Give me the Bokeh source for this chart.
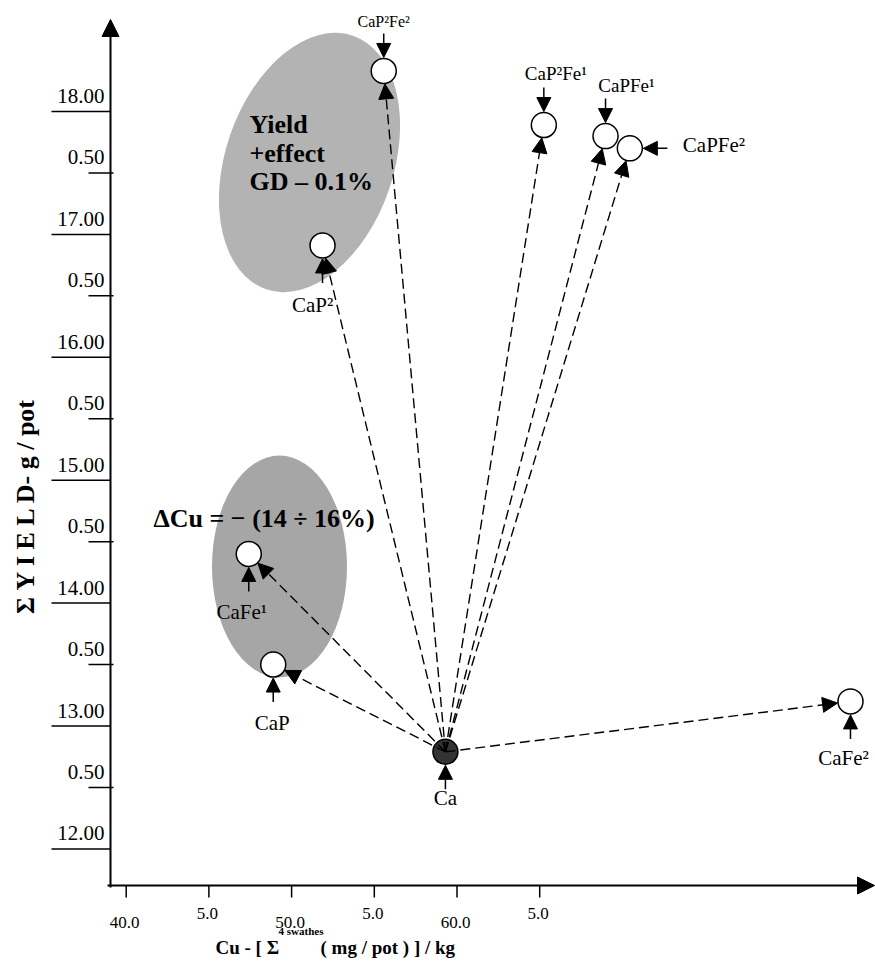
import math
from bokeh.plotting import figure
from bokeh.models import (Range1d, Arrow, NormalHead, Label, LabelSet, ColumnDataSource)
from bokeh.core.properties import value
from bokeh.embed import file_html
from bokeh.resources import INLINE

# ---------------- data ----------------
treatments = ["Ca", "CaP", "CaFe¹", "CaFe²", "CaP²", "CaP²Fe²", "CaP²Fe¹", "CaPFe¹", "CaPFe²"]
cu_uptake = [59.30, 48.89, 47.41, 83.79, 51.87, 55.57, 65.25, 68.98, 70.45]
yield_g = [12.79, 13.50, 14.40, 13.20, 16.91, 18.33, 17.89, 17.80, 17.70]
control = "Ca"

y_ticks = [12.0, 12.5, 13.0, 13.5, 14.0, 14.5, 15.0, 15.5, 16.0, 16.5, 17.0, 17.5, 18.0]
y_tick_labels = ["12.00", "0.50", "13.00", "0.50", "14.00", "0.50", "15.00",
                 "0.50", "16.00", "0.50", "17.00", "0.50", "18.00"]
x_ticks = [40.0, 45.0, 50.0, 55.0, 60.0, 65.0]
x_tick_labels = ["40.0", "5.0", "50.0", "5.0", "60.0", "5.0"]

x_title_parts = ["Cu  - [ Σ", "4 swathes", "( mg / pot ) ]  /  kg"]
y_title = "Σ  Y I E L D- g / pot"
yield_note = ["Yield", "+effect", "GD – 0.1%"]
cu_note = "ΔCu = − (14 ÷ 16%)"

# ---------------- layout ----------------
W, H = 875, 964
SX = 82.7 / 5.0      # screen px per x unit
SY = 122.9           # screen px per y unit
X0 = 40.0 - 125.7 / SX
X1 = X0 + W / SX
Y1 = 18.0 + 111.0 / SY
Y0 = Y1 - H / SY
SERIF = "Liberation Serif"
R = 12.5


def px2x(px):
    return X0 + px / SX


def py2y(py):
    return Y1 - py / SY


AX = px2x(110)   # position of the y axis line
AY = py2y(885)   # position of the x axis line

p = figure(width=W, height=H, x_range=Range1d(X0, X1), y_range=Range1d(Y0, Y1),
           x_axis_type=None, y_axis_type=None, output_backend="svg",
           toolbar_location=None, min_border=0,
           background_fill_color="white", border_fill_color="white")
p.outline_line_color = None

# ---------------- axes ----------------
p.add_layout(Arrow(end=NormalHead(size=17, fill_color="black", line_color="black"),
                   x_start=AX, y_start=AY - 2 / SY, x_end=AX, y_end=py2y(19),
                   line_width=2, line_color="black"))
p.add_layout(Arrow(end=NormalHead(size=17, fill_color="black", line_color="black"),
                   x_start=AX - 3 / SX, y_start=AY, x_end=px2x(874), y_end=AY,
                   line_width=2, line_color="black"))

major_y = [v for v in y_ticks if v == int(v)]
minor_y = [v for v in y_ticks if v != int(v)]
p.segment(x0=[AX - 59 / SX] * len(major_y), y0=major_y, x1=[AX] * len(major_y), y1=major_y,
          line_color="black", line_width=1.5)
p.segment(x0=[AX - 22 / SX] * len(minor_y), y0=minor_y, x1=[AX + 3 / SX] * len(minor_y), y1=minor_y,
          line_color="black", line_width=1.5)
p.segment(x0=x_ticks, y0=[AY] * len(x_ticks), x1=x_ticks, y1=[AY - 12 / SY] * len(x_ticks),
          line_color="black", line_width=1.5)

# tick labels
ysrc = ColumnDataSource(dict(x=[AX] * len(y_ticks), y=y_ticks, text=y_tick_labels))
p.add_layout(LabelSet(source=ysrc, x="x", y="y", text="text", x_offset=-6, y_offset=8.5,
                      text_align="right", text_baseline="alphabetic",
                      text_font=value(SERIF), text_font_size="21px", text_color="black"))

xsrc = ColumnDataSource(dict(x=x_ticks, y=[AY] * len(x_ticks), text=x_tick_labels,
                             yoff=[-42 if i % 2 == 0 else -33 for i in range(len(x_ticks))]))
p.add_layout(LabelSet(source=xsrc, x="x", y="y", text="text", x_offset=-1.5, y_offset="yoff",
                      text_align="center", text_baseline="alphabetic",
                      text_font=value(SERIF), text_font_size="17px", text_color="black"))

# axis titles
p.add_layout(Label(x=px2x(25), y=py2y(502), text=y_title, angle=math.pi / 2,
                   text_align="center", text_baseline="middle", text_font=SERIF,
                   text_font_style="bold", text_font_size="26px", text_color="black"))
p.add_layout(Label(x=px2x(215), y=py2y(947), text=x_title_parts[0],
                   text_align="left", text_baseline="middle", text_font=SERIF,
                   text_font_style="bold", text_font_size="19px", text_color="black"))
p.add_layout(Label(x=px2x(278), y=py2y(930), text=x_title_parts[1],
                   text_align="left", text_baseline="middle", text_font=SERIF,
                   text_font_style="bold", text_font_size="11px", text_color="black"))
p.add_layout(Label(x=px2x(320), y=py2y(947), text=x_title_parts[2],
                   text_align="left", text_baseline="middle", text_font=SERIF,
                   text_font_style="bold", text_font_size="19px", text_color="black"))

# ---------------- shaded regions ----------------
p.ellipse(x=[px2x(309)], y=[py2y(162)], width=[168], height=[268], angle=[-0.33],
          width_units="screen", height_units="screen",
          fill_color="#b3b3b3", line_color=None, level="underlay")
p.ellipse(x=[px2x(279)], y=[py2y(566)], width=[135], height=[222], angle=[0],
          width_units="screen", height_units="screen",
          fill_color="#a6a6a6", line_color=None, level="underlay")

for txt, py in zip(yield_note, [124, 153, 181]):
    p.add_layout(Label(x=px2x(249), y=py2y(py), text=txt, text_align="left",
                       text_baseline="middle", text_font=SERIF, text_font_style="bold",
                       text_font_size="26px", text_color="black"))
p.add_layout(Label(x=px2x(153), y=py2y(518), text=cu_note, text_align="left",
                   text_baseline="middle", text_font=SERIF, text_font_style="bold",
                   text_font_size="26px", text_color="black"))

# ---------------- points ----------------
fills = ["#333333" if t == control else "white" for t in treatments]
p.scatter(x=cu_uptake, y=yield_g, size=2 * R, marker="circle", fill_color=fills,
          line_color="black", line_width=1.5)

ci = treatments.index(control)
cx, cy = cu_uptake[ci], yield_g[ci]
for t, x, y in zip(treatments, cu_uptake, yield_g):
    if t == control:
        continue
    dxp, dyp = (x - cx) * SX, (y - cy) * SY
    L = math.hypot(dxp, dyp)
    ex = x - dxp / L * (R + 0.5) / SX
    ey = y - dyp / L * (R + 0.5) / SY
    p.add_layout(Arrow(end=NormalHead(size=15, fill_color="black", line_color="black", line_width=1),
                       x_start=cx, y_start=cy, x_end=ex, y_end=ey,
                       line_dash="10 5", line_width=1.4, line_color="black"))

label_style = {
    "Ca": dict(side=(0, 1), dx=0, dy=46, size=21, align="center"),
    "CaP": dict(side=(0, 1), dx=-1, dy=58, size=21, align="center"),
    "CaFe¹": dict(side=(0, 1), dx=-7, dy=58, size=21, align="center"),
    "CaFe²": dict(side=(0, 1), dx=-7, dy=57, size=21, align="center"),
    "CaP²": dict(side=(0, 1), dx=-10, dy=60, size=21, align="center"),
    "CaP²Fe²": dict(side=(0, -1), dx=0, dy=-49, size=16, align="center"),
    "CaP²Fe¹": dict(side=(0, -1), dx=12, dy=-52, size=19, align="center"),
    "CaPFe¹": dict(side=(0, -1), dx=21, dy=-51, size=19, align="center"),
    "CaPFe²": dict(side=(1, 0), dx=53, dy=-3, size=21, align="left"),
}
for t, x, y in zip(treatments, cu_uptake, yield_g):
    st = label_style[t]
    sx_, sy_ = st["side"]
    tip = R + 1
    tail = R + 25
    p.add_layout(Arrow(end=NormalHead(size=14, fill_color="black", line_color="black", line_width=1),
                       x_start=x + sx_ * tail / SX, y_start=y - sy_ * tail / SY,
                       x_end=x + sx_ * tip / SX, y_end=y - sy_ * tip / SY,
                       line_width=1.5, line_color="black"))
    p.add_layout(Label(x=x, y=y, x_offset=st["dx"], y_offset=-st["dy"], text=t,
                       text_align=st["align"], text_baseline="middle", text_font=SERIF,
                       text_font_size=f"{st['size']}px", text_color="black"))

open("out.html", "w").write(file_html(p, INLINE, "chart"))
